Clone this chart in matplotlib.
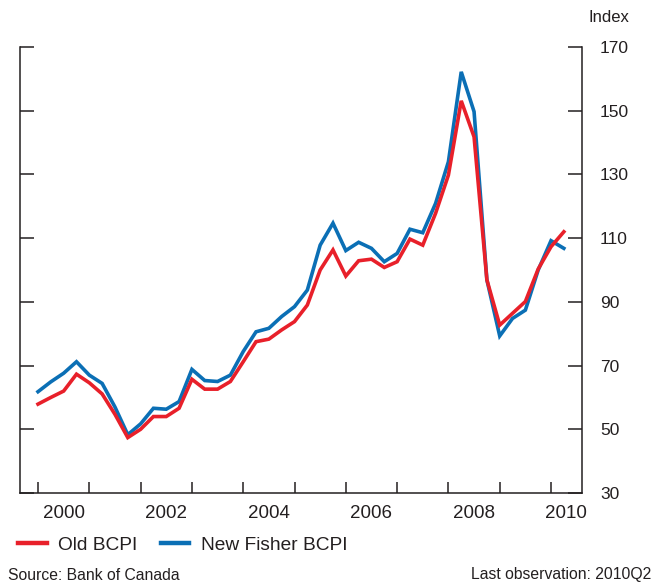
import numpy as np
import matplotlib
matplotlib.use("Agg")
import matplotlib.pyplot as plt
from matplotlib.lines import Line2D

# Quarterly index values, 2000Q1 to 2010Q2
quarters = 2000 + np.arange(42) / 4
old_bcpi = [57.9, 60.0, 62.0, 67.3, 64.6, 61.1, 54.7, 47.4, 50.0, 54.0,
            54.0, 56.6, 65.7, 62.6, 62.6, 65.0, 71.2, 77.5, 78.3, 81.2,
            83.8, 89.0, 100.0, 106.3, 98.1, 102.9, 103.4, 100.8, 102.6, 109.7,
            107.8, 117.8, 129.8, 153.1, 141.8, 96.9, 82.7, 86.4, 90.1, 100.3,
            107.3, 112.0]
new_fisher_bcpi = [61.8, 64.9, 67.6, 71.2, 67.0, 64.4, 57.0, 48.3, 51.7, 56.6,
                   56.3, 58.7, 68.8, 65.3, 65.0, 67.0, 74.4, 80.6, 81.7, 85.4,
                   88.5, 93.7, 107.8, 114.7, 106.1, 108.7, 106.8, 102.6, 105.2, 112.8,
                   111.7, 120.9, 134.0, 162.2, 149.7, 96.9, 79.3, 84.8, 87.4, 100.0,
                   109.2, 106.8]
year_labels = ["2000", "2002", "2004", "2006", "2008", "2010"]
y_ticks = [30, 50, 70, 90, 110, 130, 150, 170]

RED = "#e8202a"
BLUE = "#0b6fb5"
TXT = "#231f20"

plt.rcParams["font.family"] = ["Liberation Sans", "DejaVu Sans"]
plt.rcParams["font.size"] = 12.5

fig = plt.figure(figsize=(6.61, 5.86), dpi=100)
ax = fig.add_axes([20 / 661, 1 - 493 / 586, 562 / 661, 446 / 586])

ax.plot(quarters, new_fisher_bcpi, color=BLUE, lw=2.6, solid_joinstyle="miter")
ax.plot(quarters, old_bcpi, color=RED, lw=2.6, solid_joinstyle="miter")

ax.set_xlim(1999.649, 2010.604)
ax.set_ylim(30, 170)

ax.spines["top"].set_visible(False)
for s in ["left", "right", "bottom"]:
    ax.spines[s].set_color(TXT)
    ax.spines[s].set_linewidth(1.1)

# yearly ticks inward, labels centred between
ax.set_xticks(np.arange(2000, 2011))
ax.set_xticklabels([])
ax.tick_params(axis="x", which="major", direction="in", length=8, width=1.1, color=TXT)
label_pos = [2000.5, 2002.5, 2004.5, 2006.5, 2008.5, 2010.3]
ax.set_xticks(label_pos, minor=True)
ax.set_xticklabels(year_labels, minor=True, fontsize=13.5)
ax.tick_params(axis="x", which="minor", length=0, pad=9, labelcolor=TXT)

ax.set_yticks(y_ticks)
ax.yaxis.set_ticks_position("both")
ax.tick_params(axis="y", direction="in", length=10, width=1.1, color=TXT,
               labelleft=False, labelright=True, pad=13, labelcolor=TXT)

fig.text(588 / 661, 1 - 17 / 586, "Index", ha="left", va="center", color=TXT,
         fontsize=12)

handles = [Line2D([], [], color=RED, lw=3.2), Line2D([], [], color=BLUE, lw=3.2)]
fig.legend(handles, ["Old BCPI", "New Fisher BCPI"], loc="center left",
           bbox_to_anchor=(18 / 661, 1 - 545 / 586), ncol=2, frameon=False,
           borderpad=0, borderaxespad=0, handlelength=1.5, handletextpad=0.6,
           columnspacing=1.2, labelcolor=TXT, fontsize=13.8)

fig.text(8 / 661, 1 - 575 / 586, "Source: Bank of Canada", ha="left", va="center",
         color=TXT, fontsize=11.3)
fig.text(651 / 661, 1 - 575 / 586, "Last observation: 2010Q2", ha="right",
         va="center", color=TXT, fontsize=11.3)

fig.savefig("out.png", dpi=100)
